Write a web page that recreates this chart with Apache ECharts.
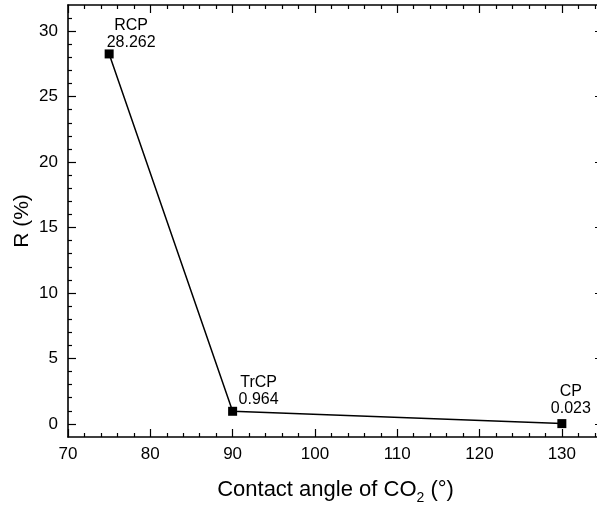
<!DOCTYPE html>
<html>
<head>
<meta charset="utf-8">
<script src="https://cdn.jsdelivr.net/npm/echarts@6/dist/echarts.min.js"></script>
<style>html,body{margin:0;padding:0;background:#fff;}#c{width:597px;height:506px;}</style>
</head>
<body>
<div id="c"></div>
<script>
const contactAngle = [75, 90, 130];
const rPercent = [28.262, 0.964, 0.023];
const pointNames = ['RCP', 'TrCP', 'CP'];
const xMajorTicks = [70, 80, 90, 100, 110, 120, 130];
const xMinorTicks = [72, 74, 76, 78, 82, 84, 86, 88, 92, 94, 96, 98, 102, 104, 106, 108, 112, 114, 116, 118, 122, 124, 126, 128, 132, 134];
const yMajorTicks = [0, 5, 10, 15, 20, 25, 30];
const yMinorTicks = [1, 2, 3, 4, 6, 7, 8, 9, 11, 12, 13, 14, 16, 17, 18, 19, 21, 22, 23, 24, 26, 27, 28, 29, 31];

const FONT = 'Liberation Sans, Arial, sans-serif';
const X_MIN = 70, X_MAX = 135, Y_MIN = -1, Y_MAX = 32;
const labelOffsets = [[22, 2], [26, 1], [9, -2]];

function xAx(position, ticks, len, showLine, showLabel, extra) {
  return Object.assign({
    type: 'value', gridIndex: 0, position: position, min: X_MIN, max: X_MAX,
    splitLine: { show: false },
    axisLine: { show: showLine, onZero: false, lineStyle: { color: '#000', width: 1.6 } },
    axisTick: { show: true, inside: true, length: len, customValues: ticks, lineStyle: { color: '#000', width: 1.2 } },
    axisLabel: { show: showLabel, customValues: ticks, margin: 9, fontSize: 17, color: '#000', fontFamily: FONT }
  }, extra || {});
}
function yAx(position, ticks, len, showLine, showLabel, extra) {
  return Object.assign({
    type: 'value', gridIndex: 0, position: position, min: Y_MIN, max: Y_MAX,
    splitLine: { show: false },
    axisLine: { show: showLine, onZero: false, lineStyle: { color: '#000', width: 1.6 } },
    axisTick: { show: true, inside: true, length: len, customValues: ticks, lineStyle: { color: '#000', width: 1.2 } },
    axisLabel: { show: showLabel, customValues: ticks, margin: 10, fontSize: 17, color: '#000', fontFamily: FONT }
  }, extra || {});
}

const chart = echarts.init(document.getElementById('c'), null, { renderer: 'canvas' });
chart.setOption({
  animation: false,
  backgroundColor: '#fff',
  grid: { left: 68, top: 5, width: 535, height: 432, containLabel: false, outerBoundsMode: 'none' },
  xAxis: [
    xAx('bottom', xMajorTicks, 8, true, true, {
      name: 'Contact angle of CO{s|2} (°)',
      nameLocation: 'middle', nameGap: 38,
      nameTextStyle: { fontSize: 22, color: '#000', fontFamily: FONT, lineHeight: 30,
        rich: { s: { fontSize: 14, lineHeight: 14, verticalAlign: 'bottom', color: '#000', fontFamily: FONT } } }
    }),
    xAx('bottom', xMinorTicks, 4, false, false),
    xAx('top', xMajorTicks, 8, true, false),
    xAx('top', xMinorTicks, 4, false, false)
  ],
  yAxis: [
    yAx('left', yMajorTicks, 8, true, true, {
      name: 'R (%)', nameLocation: 'middle', nameGap: 35, nameRotate: 90, nameMoveOverlap: false,
      nameTextStyle: { fontSize: 21, color: '#000', fontFamily: FONT }
    }),
    yAx('left', yMinorTicks, 4, false, false),
    yAx('right', yMajorTicks, 8, true, false),
    yAx('right', yMinorTicks, 4, false, false)
  ],
  series: [{
    type: 'line',
    xAxisIndex: 0, yAxisIndex: 0,
    symbol: 'rect', symbolSize: 9,
    itemStyle: { color: '#000' },
    lineStyle: { color: '#000', width: 1.5 },
    data: contactAngle.map((x, i) => ({
      value: [x, rPercent[i]],
      label: { offset: labelOffsets[i] }
    })),
    label: {
      show: true, position: 'top', distance: 0, align: 'center', verticalAlign: 'bottom',
      fontSize: 16, lineHeight: 17, color: '#000', fontFamily: FONT,
      formatter: p => pointNames[p.dataIndex] + '\n' + rPercent[p.dataIndex].toFixed(3)
    }
  }]
});
</script>
</body>
</html>
